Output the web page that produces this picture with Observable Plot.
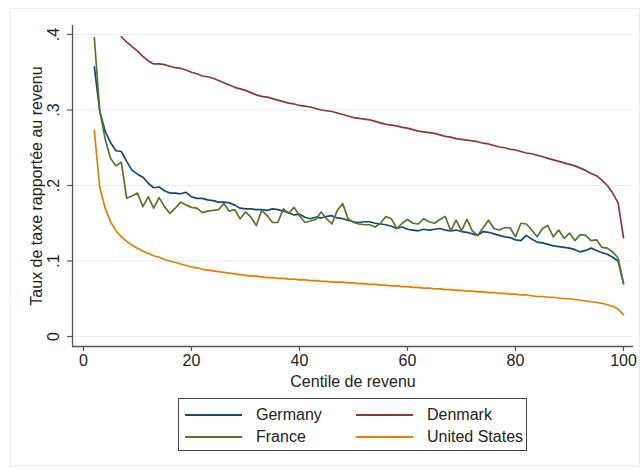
<!DOCTYPE html>
<html>
<head>
<meta charset="utf-8">
<script src="https://cdn.jsdelivr.net/npm/d3@7"></script>
<script src="https://cdn.jsdelivr.net/npm/@observablehq/plot@0.6"></script>
<style>
  html, body { margin: 0; padding: 0; background: #fff; }
  #wrap { position: relative; width: 644px; height: 469px; font-family: "Liberation Sans", Arial, sans-serif; }
  #outer { position: absolute; left: 10px; top: 8px; width: 630px; height: 458px; border: 1px solid #ececec; box-sizing: border-box; }
  #chart { position: absolute; left: 0; top: 0; }
  #legend { position: absolute; left: 178px; top: 398px; width: 349px; height: 53px; border: 1px solid #444; box-sizing: border-box; background: #fff; }
  .item { position: absolute; height: 20px; font-size: 16px; color: #222; line-height: 20px; }
  .item .sw { position: absolute; left: 0; top: 9px; width: 57px; height: 2px; }
  .item .lb { position: absolute; left: 71px; top: 0; white-space: nowrap; }
</style>
</head>
<body>
<div id="wrap">
  <div id="outer"></div>
  <div id="chart"></div>
  <div id="legend"></div>
</div>
<script>
// ---- data ----
const centiles = d3.range(2, 101);          // 2..100
const centilesDenmark = d3.range(7, 101);   // 7..100

const germany = [
  .357,.299,.272,.257,.246,.245,.232,.220,.215,
  .211,.203,.197,.198,.193,.190,.190,.189,.191,.185,
  .183,.183,.181,.180,.178,.178,.177,.174,.170,.169,
  .169,.168,.168,.167,.169,.168,.166,.164,.161,.162,
  .158,.156,.158,.157,.159,.160,.157,.156,.154,.152,
  .151,.152,.152,.150,.149,.148,.146,.143,.145,.142,
  .141,.140,.142,.141,.142,.143,.141,.140,.141,.139,
  .138,.136,.134,.139,.138,.136,.134,.132,.131,.128,
  .127,.134,.129,.125,.124,.122,.120,.119,.118,.117,
  .115,.112,.114,.117,.114,.111,.109,.105,.100,.070
];

const france = [
  .396,.299,.262,.236,.226,.231,.183,.186,.190,
  .172,.185,.170,.184,.172,.163,.170,.178,.174,.171,
  .170,.164,.166,.167,.168,.176,.166,.168,.156,.165,
  .158,.147,.167,.160,.151,.151,.169,.163,.171,.160,
  .151,.153,.155,.165,.156,.149,.167,.176,.156,.151,
  .149,.148,.148,.145,.150,.159,.156,.143,.150,.155,
  .150,.149,.156,.152,.150,.155,.159,.140,.154,.140,
  .155,.140,.134,.144,.154,.143,.141,.144,.144,.132,
  .150,.149,.141,.132,.143,.147,.132,.141,.130,.137,
  .127,.135,.134,.127,.128,.118,.117,.112,.104,.070
];

const unitedStates = [
  .273,.198,.170,.152,.140,.132,.126,.121,.117,
  .113,.110,.107,.105,.102,.100,.098,.096,.094,.092,
  .091,.089,.088,.087,.086,.085,.084,.083,.082,.081,
  .080,.080,.079,.078,.078,.077,.077,.076,.076,.075,
  .075,.074,.074,.073,.073,.072,.072,.072,.071,.071,
  .070,.070,.069,.069,.068,.068,.067,.067,.066,.066,
  .065,.065,.064,.064,.063,.063,.062,.062,.061,.061,
  .060,.060,.059,.059,.058,.058,.057,.057,.056,.056,
  .055,.055,.054,.053,.053,.052,.052,.051,.050,.050,
  .049,.048,.047,.046,.045,.044,.042,.040,.036,.029
];

const denmark = [
  .397,.390,.384,.378,
  .371,.365,.361,.361,.360,.358,.356,.355,.353,.350,
  .348,.345,.344,.342,.339,.336,.333,.330,.328,.326,
  .323,.320,.318,.317,.315,.313,.311,.309,.308,.306,
  .305,.304,.302,.300,.299,.298,.296,.294,.292,.290,
  .289,.288,.287,.285,.283,.281,.280,.279,.277,.276,
  .274,.272,.271,.270,.269,.267,.265,.264,.262,.261,
  .260,.259,.258,.256,.255,.253,.251,.250,.248,.247,
  .245,.243,.242,.240,.238,.236,.234,.232,.230,.228,
  .226,.223,.220,.216,.213,.207,.200,.190,.177,.131
];

const seriesNames = ["Germany", "Denmark", "France", "United States"];
const seriesColors = ["#1a476f", "#90353b", "#55752f", "#e37e00"];
const xTicks = [0, 20, 40, 60, 80, 100];
const yTicks = [0, 0.1, 0.2, 0.3, 0.4];
const yTickLabels = ["0", ".1", ".2", ".3", ".4"];
const xTitle = "Centile de revenu";
const yTitle = "Taux de taxe rapportée au revenu";

// ---- table ----
const rows = [];
centiles.forEach((c, i) => rows.push({series: "Germany", c, v: germany[i]}));
centilesDenmark.forEach((c, i) => rows.push({series: "Denmark", c, v: denmark[i]}));
centiles.forEach((c, i) => rows.push({series: "France", c, v: france[i]}));
centiles.forEach((c, i) => rows.push({series: "United States", c, v: unitedStates[i]}));

const xDom = [-2.037, 101.85];
const yDom = [-0.01325, 0.4119];
const axisColor = "#555";
const textColor = "#222";

const chart = Plot.plot({
  width: 644,
  height: 396,
  marginLeft: 72,
  marginRight: 11,
  marginTop: 25,
  marginBottom: 50,
  style: {fontFamily: '"Liberation Sans", Arial, sans-serif', background: "transparent", overflow: "visible"},
  x: {domain: xDom, axis: null},
  y: {domain: yDom, axis: null},
  color: {domain: seriesNames, range: seriesColors},
  marks: [
    Plot.ruleY(yTicks, {x1: xDom[0], x2: xDom[1], stroke: "#e9e9e9", strokeWidth: 1.2}),
    Plot.axisY({ticks: yTicks, tickSize: 5, tickFormat: () => "", stroke: axisColor, strokeWidth: 1.2, label: null}),
    Plot.axisX({ticks: xTicks, tickSize: 5, tickPadding: 3, fontSize: 16, fill: textColor, stroke: axisColor, strokeWidth: 1.2, label: null}),
    Plot.text(yTicks, {x: xDom[0], y: d => d, text: (d, i) => yTickLabels[i], rotate: -90, dx: -18.5, fontSize: 16, fill: textColor, textAnchor: "middle"}),
    Plot.ruleX([xDom[0]], {y1: yDom[0], y2: yDom[1], stroke: axisColor, strokeWidth: 1.3}),
    Plot.ruleY([yDom[0]], {x1: xDom[0], x2: xDom[1], stroke: axisColor, strokeWidth: 1.3}),
    Plot.line(rows, {x: "c", y: "v", z: "series", stroke: "series", strokeWidth: 1.7, curve: "linear"}),
    Plot.text([xTitle], {frameAnchor: "bottom", dy: 35, fontSize: 16, fill: textColor, lineAnchor: "middle"}),
    Plot.text([yTitle], {frameAnchor: "left", dx: -36, rotate: -90, fontSize: 16, fill: textColor, textAnchor: "middle", lineAnchor: "middle"})
  ]
});
document.getElementById("chart").appendChild(chart);

// ---- legend ----
const legend = document.getElementById("legend");
const pos = [[6, 6], [177, 6], [6, 28], [177, 28]]; // Germany, Denmark, France, United States
seriesNames.forEach((name, i) => {
  const it = document.createElement("div");
  it.className = "item";
  it.style.left = pos[i][0] + "px";
  it.style.top = pos[i][1] + "px";
  it.innerHTML = `<div class="sw" style="background:${seriesColors[i]}"></div><div class="lb">${name}</div>`;
  legend.appendChild(it);
});
</script>
</body>
</html>
